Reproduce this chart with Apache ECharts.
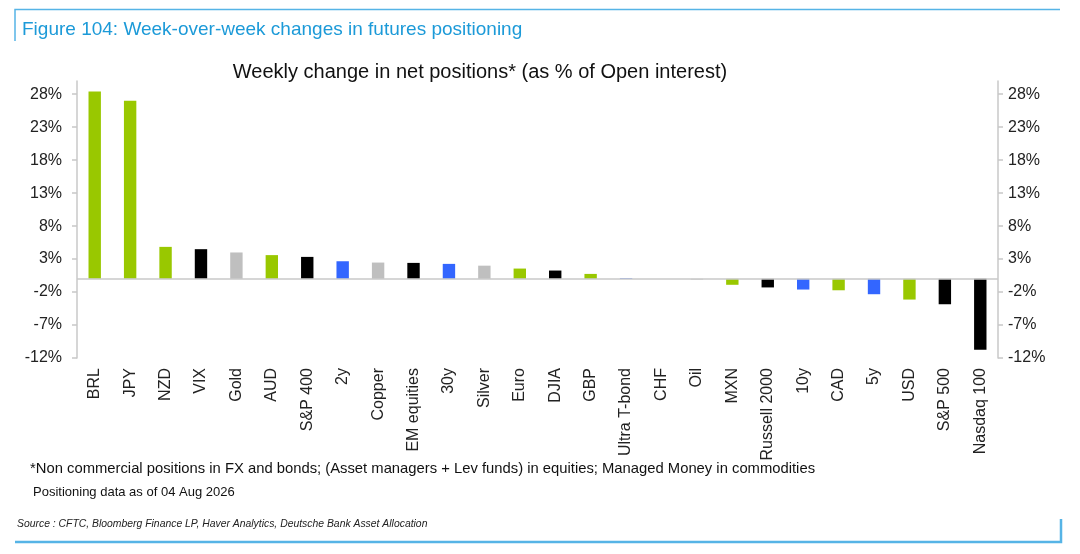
<!DOCTYPE html>
<html>
<head>
<meta charset="utf-8">
<title>Week-over-week changes in futures positioning</title>
<script src="https://cdn.jsdelivr.net/npm/echarts@6/dist/echarts.min.js"></script>
<style>
  html, body { margin: 0; padding: 0; background: #fff; }
  #chart { width: 1080px; height: 554px; }
</style>
</head>
<body>
<div id="chart"></div>
<script>
const categories = [
  "BRL", "JPY", "NZD", "VIX", "Gold", "AUD", "S&P 400", "2y", "Copper", "EM equities",
  "30y", "Silver", "Euro", "DJIA", "GBP", "Ultra T-bond", "CHF", "Oil", "MXN",
  "Russell 2000", "10y", "CAD", "5y", "USD", "S&P 500", "Nasdaq 100",
];
// weekly change in net positions, % of open interest
const changes = [
  28.4, 27.0, 4.85, 4.5, 4.0, 3.6, 3.33, 2.67, 2.47, 2.42,
  2.27, 2.0, 1.56, 1.26, 0.75, 0.1, 0, -0.1, -0.9,
  -1.3, -1.62, -1.73, -2.33, -3.14, -3.85, -10.76,
];
const assetClass = [
  "fx", "fx", "fx", "equity", "commodity", "fx", "equity", "bond", "commodity", "equity",
  "bond", "commodity", "fx", "equity", "fx", "bond", "fx", "commodity", "fx",
  "equity", "bond", "fx", "bond", "fx", "equity", "equity",
];
const yTicks = [-12, -7, -2, 3, 8, 13, 18, 23, 28];

const classColors = {
  fx: "#99c800",
  equity: "#000000",
  commodity: "#bfbfbf",
  bond: "#3366ff",
};
const FONT = "Liberation Sans, Arial, sans-serif";

const chart = echarts.init(document.getElementById("chart"));

const valueAxis = (position, margin) => ({
  type: "value",
  position: position,
  min: -12,
  max: 30,
  splitLine: { show: false },
  axisLine: { show: true, lineStyle: { color: "#c8c8c8", width: 1.5 } },
  axisTick: { show: true, length: 5, customValues: yTicks, lineStyle: { color: "#c8c8c8", width: 1.5 } },
  axisLabel: {
    customValues: yTicks,
    formatter: (v) => v + "%",
    color: "#222",
    fontSize: 16,
    fontFamily: FONT,
    margin: margin,
  },
});

chart.setOption({
  animation: false,
  grid: { left: 77, right: 82, top: 81, bottom: 196 },
  title: {
    text: "Weekly change in net positions* (as % of Open interest)",
    left: 475,
    top: 57,
    textAlign: "center",
    textStyle: { fontSize: 20, fontWeight: "normal", color: "#111", fontFamily: FONT },
  },
  xAxis: {
    type: "category",
    data: categories,
    axisLine: { show: false, onZero: false },
    axisTick: { show: false },
    axisLabel: {
      interval: 0,
      rotate: 90,
      margin: 10,
      color: "#222",
      fontSize: 16,
      fontFamily: FONT,
    },
  },
  yAxis: [valueAxis("left", 15), valueAxis("right", 10)],
  series: [
    {
      type: "bar",
      barWidth: "35%",
      data: changes.map((v, i) => ({ value: v, itemStyle: { color: classColors[assetClass[i]] } })),
      markLine: {
        silent: true,
        symbol: "none",
        label: { show: false },
        lineStyle: { color: "#c8c8c8", type: "solid", width: 1.5 },
        data: [{ yAxis: 0 }],
      },
    },
  ],
  graphic: [
    // report frame
    { type: "polyline", shape: { points: [[15, 41], [15, 9.5], [1060, 9.5]] }, style: { stroke: "#56b4e6", lineWidth: 1.5, fill: null } },
    { type: "polyline", shape: { points: [[15, 542], [1061, 542], [1061, 519]] }, style: { stroke: "#56b4e6", lineWidth: 2.5, fill: null } },
    {
      type: "text", left: 22, top: 20,
      style: { text: "Figure 104: Week-over-week changes in futures positioning", fill: "#1c9ad8", font: "19px " + FONT },
    },
    {
      type: "text", left: 30, top: 461,
      style: { text: "*Non commercial positions in FX and bonds; (Asset managers + Lev funds) in equities; Managed Money in commodities", fill: "#111", font: "14.8px " + FONT },
    },
    {
      type: "text", left: 33, top: 486,
      style: { text: "Positioning data as of 04 Aug 2026", fill: "#111", font: "13px " + FONT },
    },
    {
      type: "text", left: 17, top: 519,
      style: { text: "Source : CFTC, Bloomberg Finance LP, Haver Analytics, Deutsche Bank Asset Allocation", fill: "#222", font: "italic 10.4px " + FONT },
    },
  ],
});

window.addEventListener("resize", () => chart.resize());
</script>
</body>
</html>
